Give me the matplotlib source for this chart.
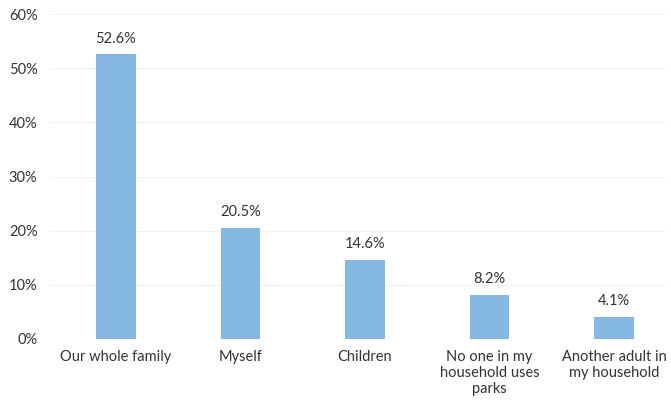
import matplotlib
matplotlib.use("Agg")
import matplotlib.pyplot as plt

categories = ["Our whole family", "Myself", "Children",
              "No one in my\nhousehold uses\nparks", "Another adult in\nmy household"]
values = [52.6, 20.5, 14.6, 8.2, 4.1]
yticks = [0, 10, 20, 30, 40, 50, 60]

plt.rcParams['font.family'] = ['Lato', 'DejaVu Sans']

fig = plt.figure(figsize=(6.71, 4.04), dpi=100)
ax = fig.add_axes([0.0745, 0.161, 0.9165, 0.804])

x = list(range(len(categories)))
ax.bar(x, values, width=0.32, color="#85b8e2", zorder=2)
for xi, v in zip(x, values):
    ax.text(xi, v + 1.6, f"{v}%", ha="center", va="bottom", fontsize=10.5, color="#333333")

ax.set_ylim(0, 60)
ax.set_xlim(-0.53, 4.41)
ax.set_yticks(yticks)
ax.set_yticklabels([f"{t}%" for t in yticks])
ax.set_xticks(x)
ax.set_xticklabels(categories, linespacing=1.2)
ax.tick_params(axis="both", length=0, labelsize=10.5, colors="#333333")
ax.tick_params(axis="y", pad=9)
ax.tick_params(axis="x", pad=8)
ax.grid(axis="y", color="#f0f0f0", linewidth=0.8, zorder=0)
for s in ax.spines.values():
    s.set_visible(False)

fig.savefig("out.png", dpi=100)
